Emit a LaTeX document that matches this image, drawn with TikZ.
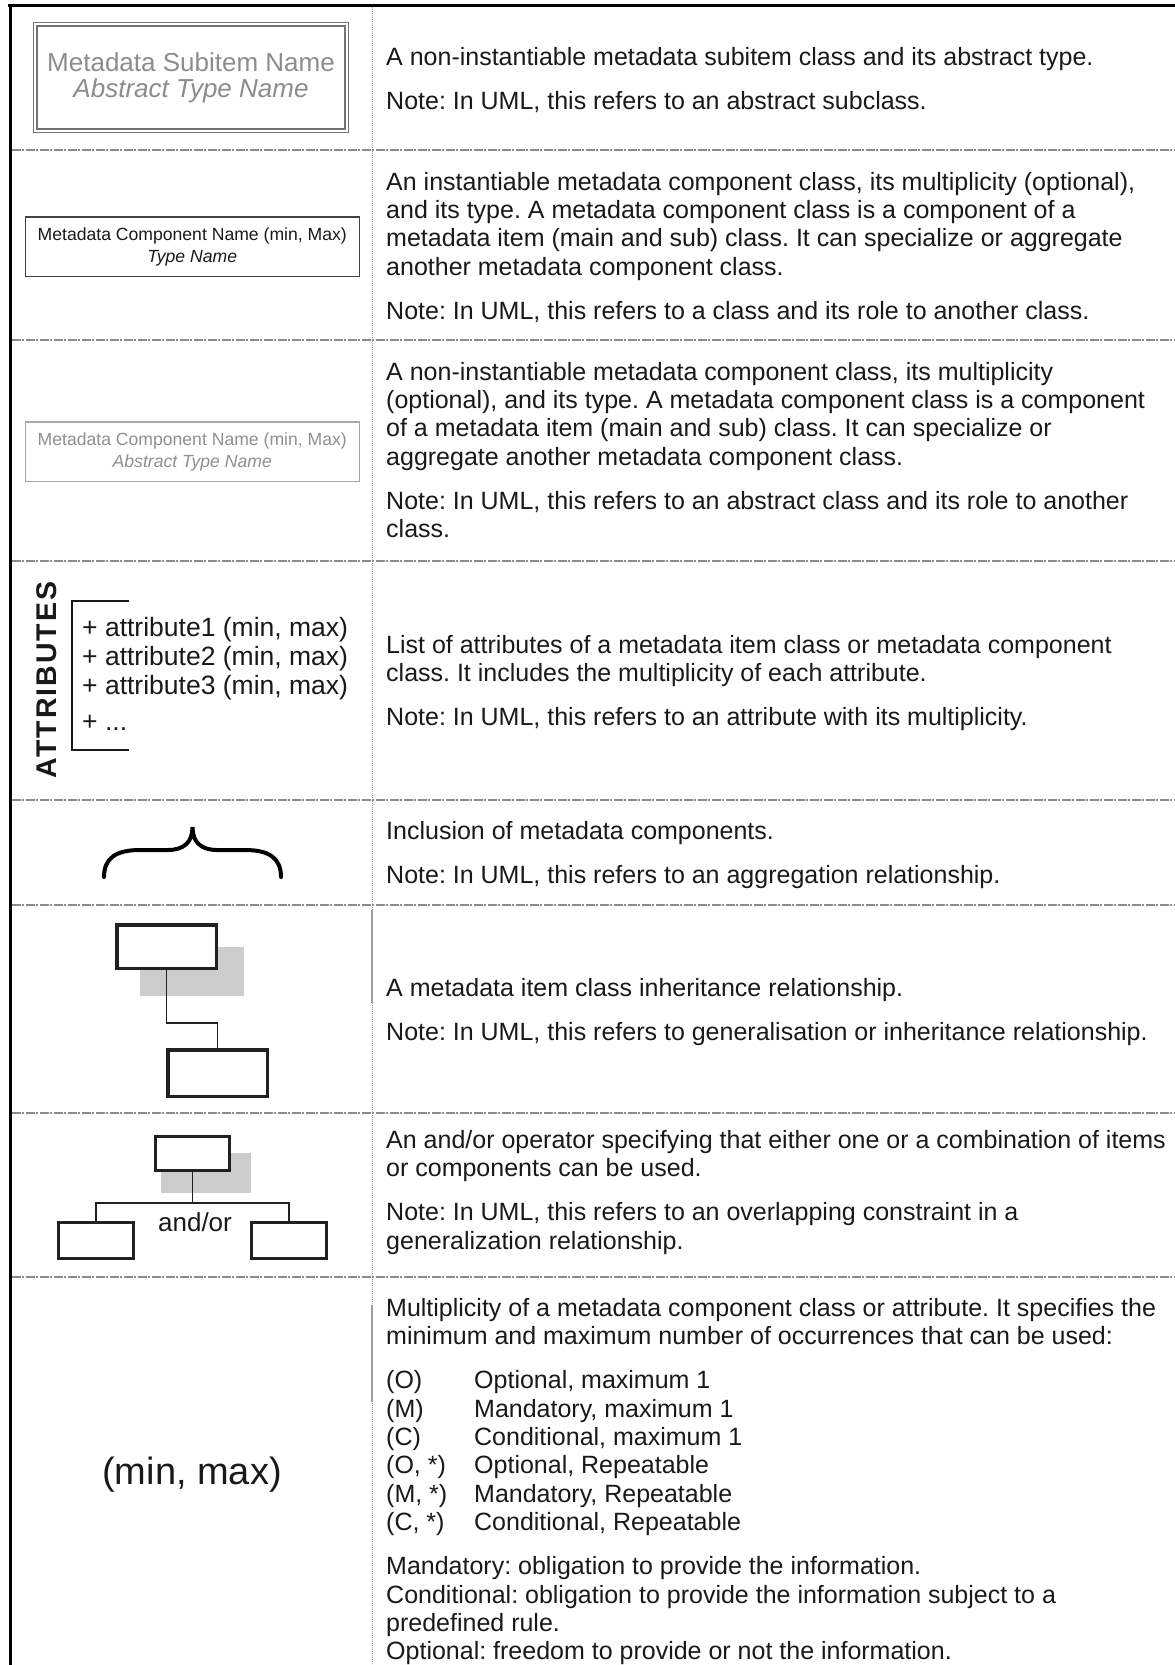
\documentclass[tikz,border=0pt]{standalone}
\usepackage{fontspec}
\setmainfont{Liberation Sans}
\frenchspacing

\definecolor{textblack}{rgb}{0.1,0.1,0.1}
\definecolor{rulegray}{rgb}{0.55,0.55,0.55}
\definecolor{sepgray}{rgb}{0.62,0.62,0.62}
\definecolor{subitemgray}{rgb}{0.45,0.45,0.45}
\definecolor{subtextgray}{rgb}{0.55,0.55,0.55}
\definecolor{abstractgray}{rgb}{0.66,0.66,0.66}
\definecolor{abstexgray}{rgb}{0.56,0.56,0.56}
\definecolor{boxblack}{rgb}{0.13,0.13,0.13}
\definecolor{shadowgray}{rgb}{0.8,0.8,0.8}

\begin{document}
\begin{tikzpicture}[x=1pt,y=1pt,yscale=-1,xscale=1,
	desc/.style={anchor=north west, inner sep=0pt, align=left, text=textblack, font=\fontsize{25}{28.3}\selectfont\frenchspacing},
	rowline/.style={rulegray, line width=1.1pt, dash pattern=on 9pt off 1.5pt on 2pt off 1.5pt},
	compbox/.style={rectangle, inner sep=0pt, align=center, line width=1.5pt, minimum width=334pt, minimum height=59.5pt, font=\fontsize{17.6}{22}\selectfont},
	umlbox/.style={rectangle, draw=boxblack, fill=white, inner sep=0pt}]
		% Set the page to the size of the table
		\useasboundingbox (0,0) rectangle (1175,1665);

		% Draw the frame of the table (top and left only)
		\draw[line width=3pt, black] (8,5) -- (1175,5);
		\draw[line width=3pt, black] (10,3.5) -- (10,1665);

		% Draw the dotted column separator
		\draw[sepgray, line width=1pt, dash pattern=on 1pt off 1pt] (372,6.5) -- (372,1665);
		\draw[sepgray, line width=1.2pt] (372,910) -- (372,1003);
		\draw[sepgray, line width=1.2pt] (372,1305) -- (372,1402);

		% Draw the row separators
		\foreach \ypos in {150,340,561,800,905,1113,1277}
			\draw[rowline] (11.5,\ypos) -- (1175,\ypos);

		% Row 1: abstract subitem box with double border
		\node (subitem) [rectangle, draw=subitemgray, double=white, double distance=2pt, line width=1.3pt, inner sep=0pt, minimum width=311.4pt, minimum height=106.4pt, align=center, text=subtextgray, font=\fontsize{26}{26}\selectfont] at (191,77.5) {Metadata Subitem Name\\\textit{Abstract Type Name}};
		\node (descSubitem) [desc] at (386,47) {A non-instantiable metadata subitem class and its abstract type.\\[16pt]Note: In UML, this refers to an abstract subclass.};

		% Row 2: instantiable component box
		\node (component) [compbox, draw=boxblack!85, text=textblack] at (192.25,246.5) {Metadata Component Name (min, Max)\\\textit{Type Name}};
		\node (descComponent) [desc] at (386,172) {An instantiable metadata component class, its multiplicity (optional),\\and its type. A metadata component class is a component of a\\metadata item (main and sub) class. It can specialize or aggregate\\another metadata component class.\\[16pt]Note: In UML, this refers to a class and its role to another class.};

		% Row 3: non-instantiable component box in light gray
		\node (abstractComp) [compbox, draw=abstractgray, text=abstexgray] at (192.25,451.5) {Metadata Component Name (min, Max)\\\textit{Abstract Type Name}};
		\node (descAbstract) [desc] at (386,362) {A non-instantiable metadata component class, its multiplicity\\(optional), and its type. A metadata component class is a component\\of a metadata item (main and sub) class. It can specialize or\\aggregate another metadata component class.\\[16pt]Note: In UML, this refers to an abstract class and its role to another\\class.};

		% Row 4: list of attributes with its bracket
		\node (attrTitle) [rotate=90, inner sep=0pt, text=textblack, font=\fontsize{28.5}{30}\bfseries\addfontfeature{LetterSpace=7}] at (46.5,680) {ATTRIBUTES};
		\draw[line width=1.5pt, textblack] (129,601) -- (72,601) -- (72,750) -- (129,750);
		\node (attrList) [anchor=north west, inner sep=0pt, align=left, text=textblack, font=\fontsize{26.5}{29}\selectfont] at (82,617) {+ attribute1 (min, max)\\+ attribute2 (min, max)\\+ attribute3 (min, max)\\[7pt]+ ...};
		\node (descAttr) [desc] at (386,635) {List of attributes of a metadata item class or metadata component\\class. It includes the multiplicity of each attribute.\\[16pt]Note: In UML, this refers to an attribute with its multiplicity.};

		% Row 5: curly brace for inclusion
		\draw[line width=4pt, line cap=round, black] (104,877) .. controls (104,858) and (116,850) .. (140,850) -- (168,850) .. controls (184,850) and (192.5,842) .. (192.5,827) .. controls (192.5,842) and (201,850) .. (217,850) -- (245,850) .. controls (269,850) and (281,858) .. (281,877);
		\node (descBrace) [desc] at (386,821) {Inclusion of metadata components.\\[16pt]Note: In UML, this refers to an aggregation relationship.};

		% Row 6: inheritance between two classes
		\fill[shadowgray] (140,947) rectangle (244,996);
		\node (superA) [umlbox, line width=3.5pt, minimum width=99.5pt, minimum height=43.5pt] at (166.5,946.5) {};
		\node (subA) [umlbox, line width=3.5pt, minimum width=99.5pt, minimum height=46.5pt] at (217.5,1073) {};
		\coordinate (bendA) at (191,1023);
		\draw[line width=1.5pt, boxblack] (superA.south) |- (subA.north |- bendA) -- (subA.north);
		\node (descInherit) [desc] at (386,978) {A metadata item class inheritance relationship.\\[16pt]Note: In UML, this refers to generalisation or inheritance relationship.};

		% Row 7: and/or operator
		\fill[shadowgray] (161,1153) rectangle (251,1193);
		\node (superB) [umlbox, line width=3pt, minimum width=74pt, minimum height=34pt] at (192.5,1153.5) {};
		\node (leftB) [umlbox, line width=3pt, minimum width=75pt, minimum height=36pt] at (96,1240.5) {};
		\node (rightB) [umlbox, line width=3pt, minimum width=75pt, minimum height=36pt] at (289,1240.5) {};
		\coordinate (joinB) at (192.5,1203);
		\draw[line width=1.5pt, boxblack] (superB.south) -- (joinB);
		\draw[line width=1.5pt, boxblack] (leftB.north) |- (joinB) -| (rightB.north);
		\node (andOr) [inner sep=0pt, text=textblack, font=\fontsize{26}{26}\selectfont] at (195,1222) {and/or};
		\node (descAndOr) [desc] at (386,1130) {An and/or operator specifying that either one or a combination of items\\or components can be used.\\[16pt]Note: In UML, this refers to an overlapping constraint in a\\generalization relationship.};

		% Row 8: multiplicity
		\node (minMax) [inner sep=0pt, text=textblack, font=\fontsize{38}{40}\selectfont] at (192,1475) {(min, max)};
		\node (descMulti) [desc] at (386,1298) {Multiplicity of a metadata component class or attribute. It specifies the\\minimum and maximum number of occurrences that can be used:\\[16pt]\makebox[88pt][l]{(O)}Optional, maximum 1\\\makebox[88pt][l]{(M)}Mandatory, maximum 1\\\makebox[88pt][l]{(C)}Conditional, maximum 1\\\makebox[88pt][l]{(O, *)}Optional, Repeatable\\\makebox[88pt][l]{(M, *)}Mandatory, Repeatable\\\makebox[88pt][l]{(C, *)}Conditional, Repeatable\\[16pt]Mandatory: obligation to provide the information.\\Conditional: obligation to provide the information subject to a\\predefined rule.\\Optional: freedom to provide or not the information.};
	\end{tikzpicture}
\end{document}
